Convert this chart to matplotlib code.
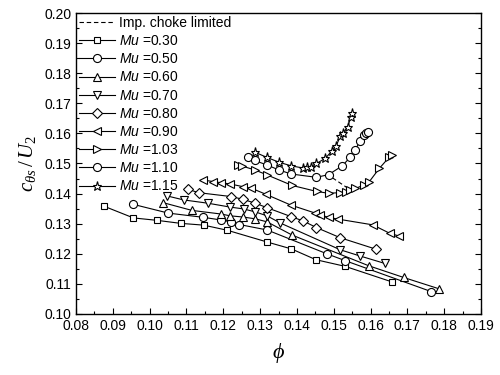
import numpy as np
import matplotlib.pyplot as plt
from matplotlib.ticker import MultipleLocator

plt.rcParams['font.family'] = ['Liberation Sans', 'DejaVu Sans']
plt.rcParams['mathtext.fontset'] = 'custom'
plt.rcParams['mathtext.it'] = 'Liberation Serif:italic'
plt.rcParams['mathtext.rm'] = 'Liberation Serif'
plt.rcParams['mathtext.sf'] = 'Liberation Sans:italic'

# phi, c_theta_s / U2 for each tip Mach number
phi_030 = [0.0876, 0.0956, 0.1020, 0.1084, 0.1147, 0.1211, 0.1319, 0.1385, 0.1452, 0.1531, 0.1659]
cu_030 = [0.1358, 0.1319, 0.1311, 0.1301, 0.1295, 0.1278, 0.1239, 0.1216, 0.1180, 0.1158, 0.1106]

phi_050 = [0.0956, 0.1051, 0.1146, 0.1195, 0.1220, 0.1244, 0.1319, 0.1483, 0.1531, 0.1765]
cu_050 = [0.1364, 0.1335, 0.1321, 0.1312, 0.1306, 0.1297, 0.1279, 0.1199, 0.1177, 0.1074]

phi_060 = [0.1036, 0.1115, 0.1194, 0.1219, 0.1254, 0.1287, 0.1319, 0.1387, 0.1595, 0.1690, 0.1787]
cu_060 = [0.1370, 0.1344, 0.1332, 0.1326, 0.1322, 0.1316, 0.1306, 0.1262, 0.1160, 0.1121, 0.1083]

phi_070 = [0.1048, 0.1092, 0.1158, 0.1219, 0.1255, 0.1287, 0.1319, 0.1355, 0.1518, 0.1570, 0.1638]
cu_070 = [0.1392, 0.1379, 0.1368, 0.1355, 0.1349, 0.1339, 0.1326, 0.1302, 0.1213, 0.1193, 0.1168]

phi_080 = [0.1105, 0.1133, 0.1222, 0.1253, 0.1287, 0.1319, 0.1385, 0.1417, 0.1453, 0.1518, 0.1615]
cu_080 = [0.1414, 0.1403, 0.1390, 0.1381, 0.1368, 0.1353, 0.1323, 0.1309, 0.1287, 0.1253, 0.1215]

phi_090 = [0.1146, 0.1172, 0.1194, 0.1219, 0.1253, 0.1276, 0.1317, 0.1383, 0.1450, 0.1464,
           0.1486, 0.1512, 0.1606, 0.1652, 0.1677]
cu_090 = [0.1445, 0.1440, 0.1436, 0.1432, 0.1423, 0.1418, 0.1397, 0.1362, 0.1335, 0.1329,
          0.1321, 0.1315, 0.1296, 0.1268, 0.1259]

phi_103 = [0.1240, 0.1250, 0.1287, 0.1319, 0.1387, 0.1454, 0.1486, 0.1517, 0.1532, 0.1545,
           0.1559, 0.1583, 0.1595, 0.1624, 0.1650, 0.1657]
cu_103 = [0.1494, 0.1492, 0.1478, 0.1462, 0.1427, 0.1407, 0.1401, 0.1403, 0.1406, 0.1412,
          0.1417, 0.1429, 0.1437, 0.1484, 0.1520, 0.1528]

phi_110 = [0.1267, 0.1285, 0.1319, 0.1352, 0.1385, 0.1453, 0.1486, 0.1523, 0.1545, 0.1559,
           0.1571, 0.1583, 0.1589, 0.1593]
cu_110 = [0.1521, 0.1510, 0.1495, 0.1478, 0.1465, 0.1454, 0.1463, 0.1492, 0.1521, 0.1545,
          0.1575, 0.1595, 0.1602, 0.1606]

phi_115 = [0.1287, 0.1319, 0.1352, 0.1385, 0.1417, 0.1427, 0.1438, 0.1453, 0.1477, 0.1496,
           0.1506, 0.1518, 0.1526, 0.1538, 0.1547, 0.1550]
cu_115 = [0.1537, 0.1520, 0.1504, 0.1492, 0.1485, 0.1487, 0.1490, 0.1500, 0.1517, 0.1543,
          0.1557, 0.1591, 0.1602, 0.1623, 0.1655, 0.1669]

# impeller choke limit line
phi_choke = [0.1480, 0.1548]
cu_choke = [0.1466, 0.1410]

series = [
    (phi_030, cu_030, 's', '0.30'),
    (phi_050, cu_050, 'o', '0.50'),
    (phi_060, cu_060, '^', '0.60'),
    (phi_070, cu_070, 'v', '0.70'),
    (phi_080, cu_080, 'D', '0.80'),
    (phi_090, cu_090, '<', '0.90'),
    (phi_103, cu_103, '>', '1.03'),
    (phi_110, cu_110, 'o', '1.10'),
    (phi_115, cu_115, '*', '1.15'),
]

fig = plt.figure(figsize=(5, 3.75), dpi=100)
ax = fig.add_axes([0.152, 0.163, 0.81, 0.802])

ax.plot(phi_choke, cu_choke, color='black', ls=(0, (4, 2.5)), lw=0.8,
        label='Imp. choke limited')
for x, y, m, mu in series:
    ms = 5.8
    if m == 'D':
        ms = 4.6
    elif m == '*':
        ms = 6.5
    elif m == 's':
        ms = 4.8
    ax.plot(x, y, color='black', lw=0.8, marker=m, ms=ms, mfc='white',
            mec='black', mew=0.8, label='$\\mathsf{Mu}$ =' + mu)

ax.set_xlim(0.08, 0.19)
ax.set_ylim(0.10, 0.20)
ax.xaxis.set_major_locator(MultipleLocator(0.01))
ax.xaxis.set_minor_locator(MultipleLocator(0.005))
ax.yaxis.set_major_locator(MultipleLocator(0.01))
ax.yaxis.set_minor_locator(MultipleLocator(0.005))
ax.xaxis.set_major_formatter(plt.FormatStrFormatter('%.2f'))
ax.yaxis.set_major_formatter(plt.FormatStrFormatter('%.2f'))
ax.tick_params(which='both', direction='in', labelsize=10, width=0.8, top=False, right=True)
ax.tick_params(which='major', length=4)
ax.tick_params(which='minor', length=2)
for s in ax.spines.values():
    s.set_linewidth(1.0)

ax.set_xlabel('$\\phi$', fontsize=16, labelpad=6)
ax.set_ylabel('$c_{\\theta s}\\,/\\,U_2$', fontsize=15, labelpad=4)

leg = ax.legend(loc='upper left', frameon=False, fontsize=10, handlelength=2.6,
                handletextpad=0.3, labelspacing=0.3, borderaxespad=0.1,
                borderpad=0.1)

fig.savefig('out.png', dpi=100)
